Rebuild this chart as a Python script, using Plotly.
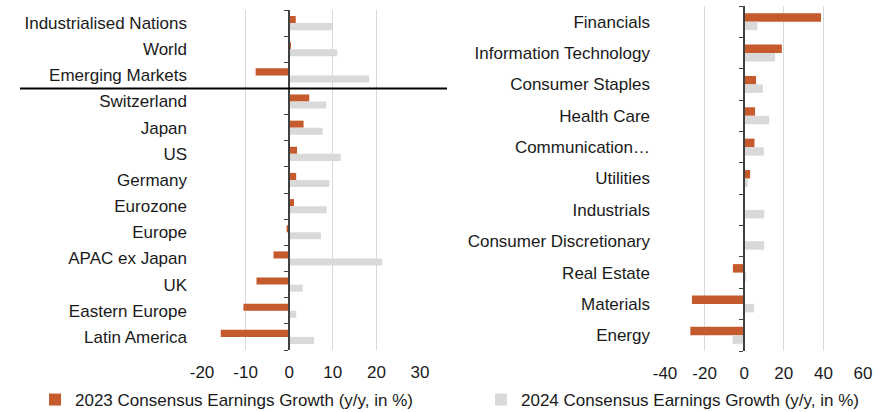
import plotly.graph_objects as go

W, H = 883, 412

# ---------------- data ----------------
regions = ["Industrialised Nations", "World", "Emerging Markets", "Switzerland", "Japan", "US",
           "Germany", "Eurozone", "Europe", "APAC ex Japan", "UK", "Eastern Europe", "Latin America"]
regions_2023 = [1.5, 0.2, -7.7, 4.6, 3.3, 1.8, 1.6, 1.1, -0.6, -3.6, -7.5, -10.5, -15.7]
regions_2024 = [10.0, 11.0, 18.3, 8.5, 7.7, 11.8, 9.2, 8.6, 7.3, 21.3, 3.1, 1.6, 5.7]

sectors = ["Financials", "Information Technology", "Consumer Staples", "Health Care",
           "Communication…", "Utilities", "Industrials", "Consumer Discretionary",
           "Real Estate", "Materials", "Energy"]
sectors_2023 = [38.8, 19.0, 6.0, 5.5, 5.2, 3.0, 0.3, 0.3, -5.7, -26.4, -27.2]
sectors_2024 = [6.7, 15.6, 9.4, 12.6, 9.9, 1.8, 10.1, 10.1, 1.0, 5.0, -5.9]

left_ticks = [-20, -10, 0, 10, 20, 30]
left_ticklabels = ["-20", "-10", "0", "10", "20", "30"]
right_ticks = [-40, -20, 0, 20, 40, 60]
right_ticklabels = ["-40", "-20", "0", "20", "40", "60"]

name_2023 = "2023 Consensus Earnings Growth (y/y, in %)"
name_2024 = "2024 Consensus Earnings Growth (y/y, in %)"

# ---------------- style ----------------
ORANGE = "#C55A2C"
GREY = "#D9D9D9"
GRID = "#D9D9D9"
AXIS = "#404040"
FONT = dict(family="Liberation Sans, Arial, sans-serif", size=17, color="#1a1a1a")

xl = [202 / W, 420 / W]
xr = [665 / W, 863 / W]
yl = [1 - 350 / H, 1 - 10 / H]
yr = [1 - 351 / H, 1 - 6 / H]

fig = go.Figure()

fig.add_trace(go.Bar(y=regions, x=regions_2023, orientation="h", name=name_2023,
                     marker=dict(color=ORANGE, line=dict(width=0)),
                     xaxis="x", yaxis="y", legend="legend", showlegend=True))
fig.add_trace(go.Bar(y=regions, x=regions_2024, orientation="h", name=name_2024,
                     marker=dict(color=GREY, line=dict(width=0)),
                     xaxis="x", yaxis="y", showlegend=False))
fig.add_trace(go.Bar(y=sectors, x=sectors_2023, orientation="h", name=name_2023,
                     marker=dict(color=ORANGE, line=dict(width=0)),
                     xaxis="x2", yaxis="y2", showlegend=False))
fig.add_trace(go.Bar(y=sectors, x=sectors_2024, orientation="h", name=name_2024,
                     marker=dict(color=GREY, line=dict(width=0)),
                     xaxis="x2", yaxis="y2", legend="legend2", showlegend=True))

# dummy traces so the zero-axis overlays are drawn
fig.add_trace(go.Scatter(x=[None], y=[None], xaxis="x", yaxis="y3", showlegend=False, hoverinfo="skip"))
fig.add_trace(go.Scatter(x=[None], y=[None], xaxis="x2", yaxis="y4", showlegend=False, hoverinfo="skip"))

lrange = [left_ticks[0], left_ticks[-1]]
rrange = [right_ticks[0], right_ticks[-1]]
pos_l = xl[0] + (0 - lrange[0]) / (lrange[1] - lrange[0]) * (xl[1] - xl[0])
pos_r = xr[0] + (0 - rrange[0]) / (rrange[1] - rrange[0]) * (xr[1] - xr[0])

nl, nr = len(regions), len(sectors)

common_x = dict(showgrid=True, gridcolor=GRID, gridwidth=1, zeroline=False, showline=False,
                ticks="", tickfont=FONT, fixedrange=True, ticklabelstandoff=10)
common_y = dict(type="category", autorange="reversed", showgrid=False, zeroline=False,
                showline=False, ticks="", tickfont=FONT, ticklabelstandoff=14)

fig.update_layout(
    width=W, height=H,
    margin=dict(l=0, r=0, t=0, b=0, autoexpand=False),
    paper_bgcolor="white", plot_bgcolor="white",
    font=FONT,
    barmode="group", bargap=0.46, bargroupgap=0,
    xaxis=dict(domain=xl, anchor="y", range=lrange, tickvals=left_ticks,
               ticktext=left_ticklabels, **common_x),
    yaxis=dict(domain=yl, anchor="x", **common_y),
    xaxis2=dict(domain=xr, anchor="y2", range=rrange, tickvals=right_ticks,
                ticktext=right_ticklabels, **common_x),
    yaxis2=dict(domain=yr, anchor="x2", **common_y),
    yaxis3=dict(overlaying="y", anchor="free", position=pos_l, range=[nl - 0.5, -0.5],
                tickvals=[i - 0.5 for i in range(nl + 1)], showticklabels=False,
                ticks="outside", ticklen=4, tickcolor=AXIS, showline=True, linecolor=AXIS,
                linewidth=1.5, showgrid=False, zeroline=False),
    yaxis4=dict(overlaying="y2", anchor="free", position=pos_r, range=[nr - 0.5, -0.5],
                tickvals=[i - 0.5 for i in range(nr + 1)], showticklabels=False,
                ticks="outside", ticklen=4, tickcolor=AXIS, showline=True, linecolor=AXIS,
                linewidth=1.5, showgrid=False, zeroline=False),
    legend=dict(orientation="h", x=35 / W, xanchor="left", y=1 - 400 / H, yanchor="middle",
                font=FONT, bgcolor="rgba(0,0,0,0)", itemwidth=30),
    legend2=dict(orientation="h", x=481 / W, xanchor="left", y=1 - 400 / H, yanchor="middle",
                 font=FONT, bgcolor="rgba(0,0,0,0)", itemwidth=30),
    shapes=[dict(type="line", xref="paper", yref="y", x0=20 / W, x1=447 / W, y0=2.5, y1=2.5,
                 line=dict(color="black", width=2))],
)

fig.write_html("out.html")
